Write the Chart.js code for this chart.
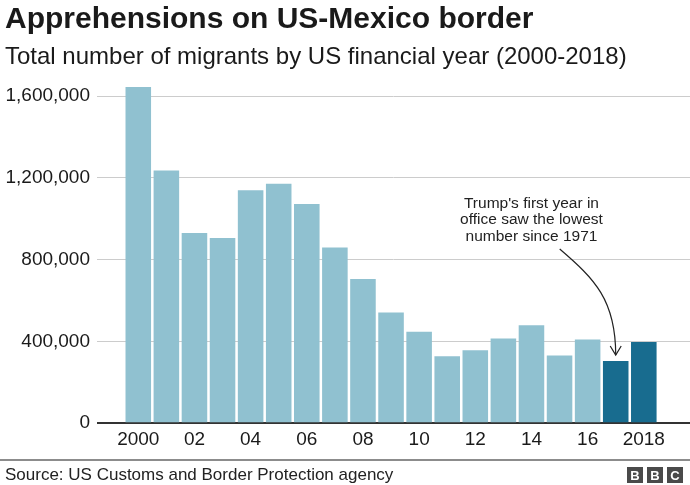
<!DOCTYPE html>
<html>
<head>
<meta charset="utf-8">
<script src="https://cdn.jsdelivr.net/npm/chart.js@4.4.1/dist/chart.umd.min.js"></script>
<style>
  html, body { margin: 0; padding: 0; background: #fff; }
  #wrap { width: 690px; height: 485px; position: relative; }
</style>
</head>
<body>
<div id="wrap"><canvas id="chart"></canvas></div>
<script>
// Data
const years = [2000, 2001, 2002, 2003, 2004, 2005, 2006, 2007, 2008, 2009,
               2010, 2011, 2012, 2013, 2014, 2015, 2016, 2017, 2018];
const apprehensions = [1643679, 1235718, 929809, 905065, 1139282, 1171396, 1071972, 858638, 705005, 540865,
                       447731, 327577, 356873, 414397, 479371, 331333, 408870, 303916, 396579];
const highlightYears = [2017, 2018];
const yTickValues = [0, 400000, 800000, 1200000, 1600000];
const xTickValues = [2000, 2002, 2004, 2006, 2008, 2010, 2012, 2014, 2016, 2018];
const xTickLabels = ['2000', '02', '04', '06', '08', '10', '12', '14', '16', '2018'];
const noteLines = ["Trump's first year in", 'office saw the lowest', 'number since 1971'];
const noteYear = 2017;

const FONT = "'Liberation Sans', Arial, Helvetica, sans-serif";
const LIGHT = 'rgb(144, 193, 208)';
const DARK = 'rgb(24, 108, 143)';

// Footer, BBC blocks and the arrow note
const extras = {
    id: 'extras',
    afterDraw(chart) {
        const ctx = chart.ctx;
        const x = chart.scales.x, y = chart.scales.y;
        ctx.save();

        // annotation text
        ctx.fillStyle = '#222';
        ctx.font = '15.5px ' + FONT;
        ctx.textAlign = 'center';
        ctx.textBaseline = 'middle';
        const tx = x.getPixelForValue(2014);
        noteLines.forEach((t, i) => ctx.fillText(t, tx, 203.5 + i * 16.5));

        // curved arrow to the 2017 bar
        const idx = years.indexOf(noteYear);
        const ex = x.getPixelForValue(noteYear);
        const ey = y.getPixelForValue(apprehensions[idx]) - 6;
        const sx = ex - 56, sy = 249;
        ctx.strokeStyle = '#222';
        ctx.lineWidth = 1.2;
        ctx.beginPath();
        ctx.moveTo(sx, sy);
        ctx.bezierCurveTo(sx + 35, sy + 30, ex, ey - 55, ex, ey);
        ctx.stroke();
        ctx.beginPath();
        ctx.moveTo(ex - 5.5, ey - 9);
        ctx.lineTo(ex, ey);
        ctx.lineTo(ex + 5.5, ey - 9);
        ctx.stroke();

        // footer rule
        ctx.fillStyle = '#8c8c8c';
        ctx.fillRect(0, 459, chart.width, 2);

        // source
        ctx.fillStyle = '#222';
        ctx.font = '17px ' + FONT;
        ctx.textAlign = 'left';
        ctx.textBaseline = 'middle';
        ctx.fillText('Source: US Customs and Border Protection agency', 5, 475);

        // BBC blocks
        const letters = ['B', 'B', 'C'];
        ctx.font = 'bold 13px ' + FONT;
        ctx.textAlign = 'center';
        letters.forEach((l, i) => {
            const bx = 627 + i * 20;
            ctx.fillStyle = '#4a4a4a';
            ctx.fillRect(bx, 467, 16, 16);
            ctx.fillStyle = '#fff';
            ctx.fillText(l, bx + 8, 476);
        });
        ctx.restore();
    }
};

const ctx = document.getElementById('chart').getContext('2d');
const chart = new Chart(ctx, {
    type: 'bar',
    data: {
        datasets: [{
            data: years.map((yr, i) => ({ x: yr, y: apprehensions[i] })),
            backgroundColor: years.map(yr => highlightYears.includes(yr) ? DARK : LIGHT),
            borderWidth: 0,
            categoryPercentage: 1,
            barPercentage: 0.91,
            clip: false
        }]
    },
    options: {
        responsive: true,
        maintainAspectRatio: false,
        animation: false,
        devicePixelRatio: 1,
        layout: { padding: { left: 5, right: 0, top: 0, bottom: 29 } },
        plugins: {
            legend: { display: false },
            tooltip: { enabled: false },
            title: {
                display: true,
                text: 'Apprehensions on US-Mexico border',
                align: 'start',
                color: '#1a1a1a',
                font: { family: FONT, size: 30, weight: 'bold' },
                padding: { top: 2, bottom: 0 }
            },
            subtitle: {
                display: true,
                text: 'Total number of migrants by US financial year (2000-2018)',
                align: 'start',
                color: '#1a1a1a',
                font: { family: FONT, size: 24 },
                padding: { top: 4.6, bottom: 24.6 }
            }
        },
        scales: {
            x: {
                type: 'linear',
                offset: false,
                min: 1998.53,
                max: 2019.645,
                grid: { display: false, drawTicks: false },
                border: { display: false },
                afterBuildTicks: scale => { scale.ticks = xTickValues.map(v => ({ value: v })); },
                ticks: {
                    padding: 5,
                    color: '#1a1a1a',
                    font: { family: FONT, size: 19 },
                    maxRotation: 0,
                    autoSkip: false,
                    callback: v => xTickLabels[xTickValues.indexOf(v)]
                }
            },
            y: {
                min: 0,
                max: 1600000,
                afterBuildTicks: scale => { scale.ticks = yTickValues.map(v => ({ value: v })); },
                afterFit: scale => { scale.width = 92; },
                border: { display: false },
                grid: {
                    drawTicks: false,
                    color: c => c.tick && c.tick.value === 0 ? '#333' : '#cccccc',
                    lineWidth: c => c.tick && c.tick.value === 0 ? 2 : 1
                },
                ticks: {
                    padding: 7,
                    color: '#1a1a1a',
                    font: { family: FONT, size: 19 },
                    callback: v => v.toLocaleString('en-US')
                }
            }
        }
    },
    plugins: [extras]
});
</script>
</body>
</html>
